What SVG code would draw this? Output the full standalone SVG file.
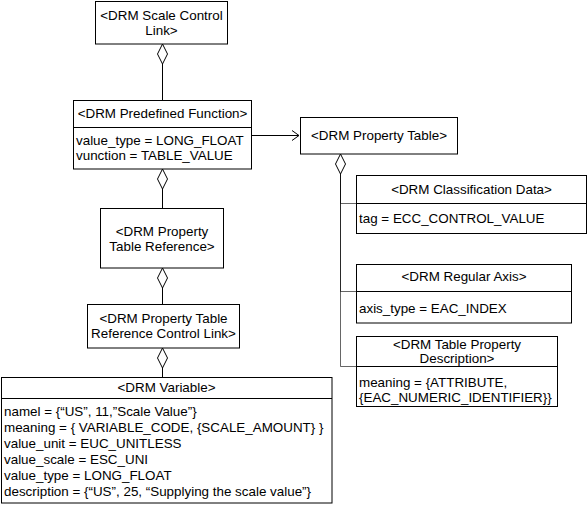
<svg xmlns="http://www.w3.org/2000/svg" width="588" height="505" viewBox="0 0 588 505">
<style>
.box{fill:#fff;stroke:#000;stroke-width:1}
.ln{fill:none;stroke:#000;stroke-width:1}
.br{fill:none;stroke:#000;stroke-width:1;stroke-opacity:0.6}
.dia{fill:#fff;stroke:#000;stroke-width:1}
text{font-family:"Liberation Sans",Arial,sans-serif;font-size:13.4px;fill:#000}
.c{text-anchor:middle}
</style>
<defs>
<marker id="open" markerWidth="10" markerHeight="12" refX="8" refY="6" orient="auto" markerUnits="userSpaceOnUse">
<path d="M1,1 L8,6 L1,11" fill="none" stroke="#000" stroke-width="1"/>
</marker>
</defs>
<rect width="588" height="505" fill="#fff"/>
<g id="connectors">
<path class="ln" d="M162.5,64 V100"/>
<path class="dia" d="M162.5,44 L167.5,54 L162.5,64 L157.5,54 Z"/>
<path class="ln" d="M162.5,189 V208"/>
<path class="dia" d="M162.5,169 L167.5,179 L162.5,189 L157.5,179 Z"/>
<path class="ln" d="M162.5,288 V304"/>
<path class="dia" d="M162.5,268 L167.5,278 L162.5,288 L157.5,278 Z"/>
<path class="ln" d="M162.5,368 V377"/>
<path class="dia" d="M162.5,348 L167.5,358 L162.5,368 L157.5,358 Z"/>
<path class="ln" d="M251,135.5 H299" marker-end="url(#open)"/>
<path class="br" d="M340.5,174 V203.5 H356"/>
<path class="br" d="M340.5,174 V291.5 H356"/>
<path class="br" d="M340.5,174 V366.5 H356"/>
<path class="dia" d="M340.5,154 L345.5,164 L340.5,174 L335.5,164 Z"/>
</g>
<g id="scale-control-link">
<rect class="box" x="95.5" y="1.5" width="132" height="42.5"/>
<text class="c" x="161.5" y="20">&lt;DRM Scale Control</text>
<text class="c" x="161.5" y="35">Link&gt;</text>
</g>
<g id="predefined-function">
<rect class="box" x="73.5" y="100.5" width="178" height="68.5"/>
<path class="ln" d="M73.5,127.5 H251.5"/>
<text class="c" x="162.5" y="118">&lt;DRM Predefined Function&gt;</text>
<text x="76" y="145">value_type = LONG_FLOAT</text>
<text x="76" y="160">vunction = TABLE_VALUE</text>
</g>
<g id="property-table">
<rect class="box" x="300.5" y="117.5" width="157" height="36.5"/>
<text class="c" x="379" y="140">&lt;DRM Property Table&gt;</text>
</g>
<g id="property-table-reference">
<rect class="box" x="100.5" y="208.5" width="123" height="59.5"/>
<text class="c" x="162" y="236">&lt;DRM Property</text>
<text class="c" x="162" y="251">Table Reference&gt;</text>
</g>
<g id="property-table-reference-control-link">
<rect class="box" x="87.5" y="304.5" width="152" height="43.5"/>
<text class="c" x="163.5" y="323">&lt;DRM Property Table</text>
<text class="c" x="163.5" y="338">Reference Control Link&gt;</text>
</g>
<g id="variable">
<rect class="box" x="1.5" y="377.5" width="330.5" height="125.5"/>
<path class="ln" d="M1.5,398.5 H332"/>
<text class="c" x="166.5" y="392">&lt;DRM Variable&gt;</text>
<text x="4" y="416">namel = {“US”, 11,”Scale Value”}</text>
<text x="4" y="432">meaning = { VARIABLE_CODE, {SCALE_AMOUNT} }</text>
<text x="4" y="448">value_unit = EUC_UNITLESS</text>
<text x="4" y="464">value_scale = ESC_UNI</text>
<text x="4" y="480">value_type = LONG_FLOAT</text>
<text x="4" y="496">description = {“US”, 25, “Supplying the scale value”}</text>
</g>
<g id="classification-data">
<rect class="box" x="356.5" y="175.5" width="230" height="58"/>
<path class="ln" d="M356.5,203.5 H586.5"/>
<text class="c" x="471.5" y="194">&lt;DRM Classification Data&gt;</text>
<text x="359" y="223">tag = ECC_CONTROL_VALUE</text>
</g>
<g id="regular-axis">
<rect class="box" x="356.5" y="264.5" width="215" height="58.5"/>
<path class="ln" d="M356.5,291.5 H571.5"/>
<text class="c" x="464" y="281">&lt;DRM Regular Axis&gt;</text>
<text x="359" y="313">axis_type = EAC_INDEX</text>
</g>
<g id="table-property-description">
<rect class="box" x="356.5" y="336.5" width="201" height="70"/>
<path class="ln" d="M356.5,366.5 H557.5"/>
<text class="c" x="457" y="349">&lt;DRM Table Property</text>
<text class="c" x="457" y="363">Description&gt;</text>
<text x="359" y="387">meaning = {ATTRIBUTE,</text>
<text x="359" y="402">{EAC_NUMERIC_IDENTIFIER}}</text>
</g>
</svg>
